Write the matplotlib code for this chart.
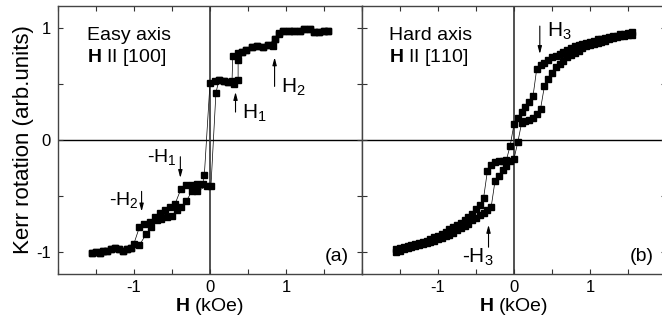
import matplotlib
matplotlib.use('Agg')
import matplotlib.pyplot as plt
from matplotlib.ticker import MultipleLocator, FixedLocator

plt.rcParams['font.family'] = ['Liberation Sans', 'DejaVu Sans']
plt.rcParams['mathtext.fontset'] = 'custom'
plt.rcParams['mathtext.rm'] = 'Liberation Sans'
plt.rcParams['mathtext.bf'] = 'Liberation Sans:bold'
plt.rcParams['mathtext.it'] = 'Liberation Sans:italic'
plt.rcParams['axes.unicode_minus'] = False

# easy axis, field sweep down (kOe, arb. units)
easy_down_h = [1.55, 1.50, 1.44, 1.37, 1.31, 1.24, 1.18, 1.11, 1.04, 0.96, 0.91, 0.85,
               0.76, 0.70, 0.62, 0.55, 0.48, 0.42, 0.37, 0.30, 0.29, 0.24, 0.18, 0.12,
               0.065, 0.0, -0.074, -0.096, -0.174, -0.24, -0.314, -0.383, -0.458, -0.523,
               -0.588, -0.654, -0.728, -0.793, -0.871, -0.928, -1.002, -1.033, -1.089,
               -1.141, -1.198, -1.25, -1.307, -1.351, -1.403, -1.447, -1.503, -1.547]
easy_down_m = [0.98, 0.98, 0.97, 0.97, 0.99, 0.99, 0.98, 0.98, 0.98, 0.98, 0.95, 0.90,
               0.85, 0.83, 0.84, 0.83, 0.81, 0.79, 0.78, 0.75, 0.53, 0.52, 0.53, 0.54,
               0.53, 0.51, -0.31, -0.395, -0.39, -0.40, -0.40, -0.44, -0.57, -0.60,
               -0.63, -0.65, -0.69, -0.73, -0.75, -0.78, -0.93, -0.97, -0.98,
               -0.99, -0.98, -0.97, -0.98, -0.99, -0.99, -1.01, -1.00, -1.01]

# easy axis, field sweep up
easy_up_h = [-1.547, -1.503, -1.447, -1.403, -1.351, -1.307, -1.25, -1.198, -1.141, -1.089,
             -1.033, -0.928, -0.837, -0.775, -0.697, -0.645, -0.566, -0.501, -0.436,
             -0.383, -0.314, -0.24, -0.166, -0.044, 0.013, 0.078, 0.118, 0.18, 0.24,
             0.31, 0.37, 0.37, 0.42, 0.48, 0.55, 0.62, 0.70, 0.76, 0.83, 0.85, 0.91,
             0.96, 1.04, 1.11, 1.18, 1.24, 1.31, 1.37, 1.44, 1.50, 1.55]
easy_up_m = [-1.01, -1.00, -1.01, -0.99, -0.99, -0.98, -0.97, -0.98, -0.99, -0.98,
             -0.97, -0.94, -0.84, -0.78, -0.72, -0.71, -0.69, -0.68, -0.63,
             -0.60, -0.55, -0.46, -0.46, -0.41, -0.41, 0.42, 0.54, 0.53, 0.52,
             0.50, 0.54, 0.72, 0.79, 0.81, 0.83, 0.84, 0.83, 0.85, 0.84, 0.90, 0.96,
             0.98, 0.98, 0.98, 0.98, 0.99, 0.99, 0.97, 0.97, 0.98, 0.98]

# hard axis, field sweep down
hard_down_h = [1.55, 1.50, 1.45, 1.40, 1.35, 1.30, 1.25, 1.20, 1.15, 1.10, 1.05, 1.00,
               0.95, 0.90, 0.85, 0.80, 0.75, 0.70, 0.65, 0.60, 0.55, 0.50, 0.45, 0.40,
               0.35, 0.30, 0.25, 0.20, 0.15, 0.10, 0.05, 0.00, -0.05, -0.10, -0.15,
               -0.20, -0.25, -0.30, -0.35, -0.40, -0.45, -0.50, -0.55, -0.60, -0.65,
               -0.70, -0.75, -0.80, -0.85, -0.90, -0.95, -1.00, -1.05, -1.10, -1.15,
               -1.20, -1.25, -1.30, -1.35, -1.40, -1.45, -1.50, -1.55]
hard_down_m = [0.97, 0.96, 0.95, 0.95, 0.93, 0.93, 0.92, 0.91, 0.90, 0.90, 0.89, 0.88,
               0.87, 0.86, 0.85, 0.84, 0.82, 0.81, 0.79, 0.77, 0.75, 0.74, 0.72, 0.69,
               0.67, 0.64, 0.39, 0.34, 0.30, 0.25, 0.20, 0.14, -0.05, -0.18, -0.19,
               -0.19, -0.20, -0.22, -0.28, -0.52, -0.58, -0.62, -0.66, -0.69, -0.72,
               -0.74, -0.76, -0.78, -0.80, -0.82, -0.84, -0.86, -0.87, -0.89, -0.90,
               -0.91, -0.92, -0.93, -0.94, -0.95, -0.96, -0.97, -0.98]

# hard axis, field sweep up
hard_up_h = [-1.55, -1.50, -1.45, -1.40, -1.35, -1.30, -1.25, -1.20, -1.15, -1.10, -1.05,
             -1.00, -0.95, -0.90, -0.85, -0.80, -0.75, -0.70, -0.65, -0.60, -0.55, -0.50,
             -0.45, -0.40, -0.35, -0.30, -0.25, -0.20, -0.15, -0.10, -0.05, 0.00, 0.05,
             0.10, 0.15, 0.20, 0.25, 0.30, 0.35, 0.40, 0.45, 0.50, 0.55, 0.60, 0.65,
             0.70, 0.75, 0.80, 0.85, 0.90, 0.95, 1.00, 1.05, 1.10, 1.15, 1.20, 1.25,
             1.30, 1.35, 1.40, 1.45, 1.50, 1.55]
hard_up_m = [-1.00, -0.99, -0.98, -0.97, -0.96, -0.95, -0.94, -0.93, -0.92, -0.91, -0.90,
             -0.89, -0.88, -0.86, -0.85, -0.83, -0.81, -0.79, -0.77, -0.75, -0.72, -0.70,
             -0.67, -0.65, -0.63, -0.60, -0.37, -0.32, -0.27, -0.23, -0.19, -0.17, -0.02,
             0.15, 0.17, 0.18, 0.20, 0.23, 0.28, 0.48, 0.55, 0.60, 0.65, 0.68, 0.71,
             0.74, 0.76, 0.78, 0.80, 0.82, 0.84, 0.85, 0.86, 0.87, 0.88, 0.89, 0.90,
             0.91, 0.92, 0.93, 0.93, 0.94, 0.94]


def setup_axes(ax):
    """Common frame, ticks and zero lines of one panel"""
    ax.set_xlim(-2, 2)
    ax.set_ylim(-1.2, 1.2)
    ax.xaxis.set_major_locator(FixedLocator([-1, 0, 1]))
    ax.xaxis.set_minor_locator(MultipleLocator(0.5))
    ax.yaxis.set_major_locator(FixedLocator([-1, 0, 1]))
    ax.yaxis.set_minor_locator(MultipleLocator(0.5))
    ax.tick_params(which='both', direction='in', top=True, right=True,
                   length=3.5, width=0.8, color='#333')
    ax.tick_params(axis='x', labelsize=12, pad=4)
    ax.tick_params(axis='y', labelsize=12, pad=5)
    for spine in ax.spines.values():
        spine.set_color('#444')
        spine.set_linewidth(1.0)
    ax.axhline(0, color='k', lw=1.0, zorder=1)
    ax.axvline(0, color='#333', lw=1.2, zorder=1)
    ax.set_xlabel(r'$\mathbf{H}$ (kOe)', fontsize=14, labelpad=1)


def plot_loop(ax, branches):
    for h, m in branches:
        ax.plot(h, m, '-', color='k', lw=0.5, marker='s', ms=4,
                mfc='k', mec='k', zorder=3)


def arrow(ax, x, y0, y1):
    ax.annotate('', xy=(x, y1), xytext=(x, y0),
                arrowprops=dict(arrowstyle='-|>,head_length=0.45,head_width=0.12',
                                color='k', lw=0.8, shrinkA=0, shrinkB=0))


fig = plt.figure(figsize=(6.62, 3.26), dpi=100)
ax1 = fig.add_axes([0.0876, 0.1595, 0.4592, 0.8221])
ax2 = fig.add_axes([0.5468, 0.1595, 0.4592, 0.8221])

# (a) easy axis
setup_axes(ax1)
plot_loop(ax1, [(easy_down_h, easy_down_m), (easy_up_h, easy_up_m)])
ax1.set_ylabel('Kerr rotation (arb.units)', fontsize=16, labelpad=2)
ax1.text(-1.62, 0.94, 'Easy axis', fontsize=14, va='center')
ax1.text(-1.62, 0.74, r'$\mathbf{H}$ II [100]', fontsize=14, va='center')
ax1.text(1.83, -1.04, '(a)', fontsize=14, ha='right', va='center')
arrow(ax1, 0.85, 0.48, 0.74)
ax1.text(0.93, 0.47, 'H$_2$', fontsize=15, va='center')
arrow(ax1, 0.336, 0.25, 0.43)
ax1.text(0.42, 0.24, 'H$_1$', fontsize=15, va='center')
arrow(ax1, -0.39, -0.15, -0.34)
ax1.text(-0.44, -0.15, '-H$_1$', fontsize=14, ha='right', va='center')
arrow(ax1, -0.9, -0.46, -0.64)
ax1.text(-0.94, -0.54, '-H$_2$', fontsize=14, ha='right', va='center')

# (b) hard axis
setup_axes(ax2)
ax2.tick_params(axis='y', labelleft=False)
plot_loop(ax2, [(hard_down_h, hard_down_m), (hard_up_h, hard_up_m)])
ax2.text(-1.65, 0.94, 'Hard axis', fontsize=14, va='center')
ax2.text(-1.65, 0.74, r'$\mathbf{H}$ II [110]', fontsize=14, va='center')
ax2.text(1.84, -1.04, '(b)', fontsize=14, ha='right', va='center')
arrow(ax2, 0.34, 1.02, 0.77)
ax2.text(0.44, 0.97, 'H$_3$', fontsize=15, va='center')
arrow(ax2, -0.335, -0.96, -0.76)
ax2.text(-0.27, -1.05, '-H$_3$', fontsize=15, ha='right', va='center')

fig.savefig('out.png', dpi=100)
